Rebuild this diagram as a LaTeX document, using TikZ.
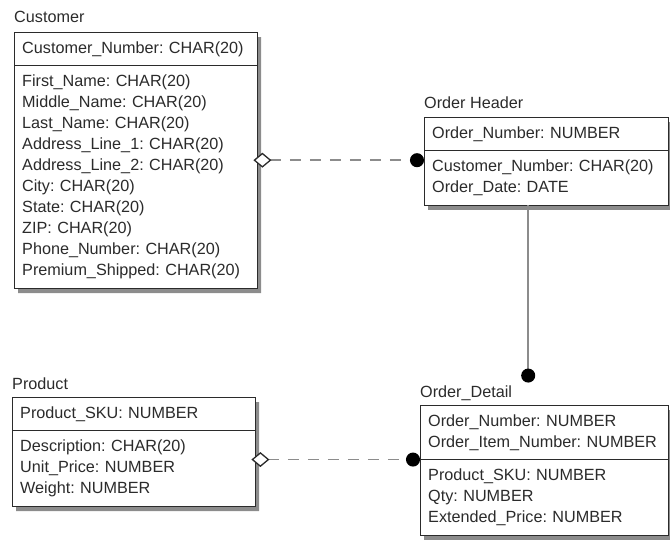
\documentclass[tikz,border=0pt]{standalone}
\usepackage{fontspec}
\usepackage{tikz}
\usetikzlibrary{shapes.multipart,shadows,arrows.meta}
\newfontfamily\erfont{Liberation Sans}
\definecolor{ink}{gray}{0.17}
\definecolor{wire}{gray}{0.55}
\newcommand{\erfontsize}{\erfont\fontsize{16.2}{21}\selectfont\frenchspacing\hyphenpenalty=10000}
\tikzset{
    entity-box/.style = {draw=ink, fill=white, rectangle split, rectangle split parts=2, align=left, inner xsep=8pt, inner ysep=9pt, anchor=north west, font=\erfontsize, text=ink, drop shadow={shadow xshift=4pt, shadow yshift=-5pt, fill=black!45, opacity=1}},
    entity-title/.style = {font=\erfontsize, text=ink, inner sep=0pt, anchor=base west},
    ident-link/.style = {draw=wire, line width=1.8pt, dash pattern=on 11pt off 9pt, shorten <=-4pt, {Diamond[fill=white, length=18pt, width=15pt, line width=1.3pt, color=ink]}-{Circle[length=14pt, color=black]}},
    owner-link/.style = {draw=wire, line width=1.8pt, -{Circle[length=14pt, color=black]}},
}
\begin{document}
\begin{tikzpicture}[x=1pt, y=-1pt]
\useasboundingbox (0,0) rectangle (670,543);
% entities
\node[entity-box, text width=227pt] (customer) at (14,32) {Customer\_Number: CHAR(20)
    \nodepart{two}First\_Name: CHAR(20)\\ Middle\_Name: CHAR(20)\\ Last\_Name: CHAR(20)\\
    Address\_Line\_1: CHAR(20)\\ Address\_Line\_2: CHAR(20)\\ City: CHAR(20)\\ State: CHAR(20)\\
    ZIP: CHAR(20)\\ Phone\_Number: CHAR(20)\\ Premium\_Shipped: CHAR(20)};
\node[entity-box, text width=228pt] (order-header) at (424,117) {Order\_Number: NUMBER
    \nodepart{two}Customer\_Number: CHAR(20)\\ Order\_Date: DATE};
\node[entity-box, text width=227pt] (product) at (12,397) {Product\_SKU: NUMBER
    \nodepart{two}Description: CHAR(20)\\ Unit\_Price: NUMBER\\ Weight: NUMBER};
\node[entity-box, text width=232pt] (order-detail) at (420,405) {Order\_Number: NUMBER\\ Order\_Item\_Number: NUMBER
    \nodepart{two}Product\_SKU: NUMBER\\ Qty: NUMBER\\ Extended\_Price: NUMBER};
% titles
\node[entity-title] (customer-title) at ([yshift=9pt]customer.north west) {Customer};
\node[entity-title] (order-header-title) at ([yshift=8.5pt]order-header.north west) {Order Header};
\node[entity-title] (product-title) at ([yshift=8pt]product.north west) {Product};
\node[entity-title] (order-detail-title) at ([yshift=7.5pt]order-detail.north west) {Order\_Detail};
% relationships
\draw[ident-link] (customer.east) -- (customer.east -| order-header.west);
\draw[ident-link] (product.east |- order-detail.text split west) -- (order-detail.text split west);
\draw[owner-link] ([xshift=-18pt]order-header.south) -- ([xshift=-18pt, yshift=3pt]order-header.south |- order-detail-title.north);
\end{tikzpicture}
\end{document}
